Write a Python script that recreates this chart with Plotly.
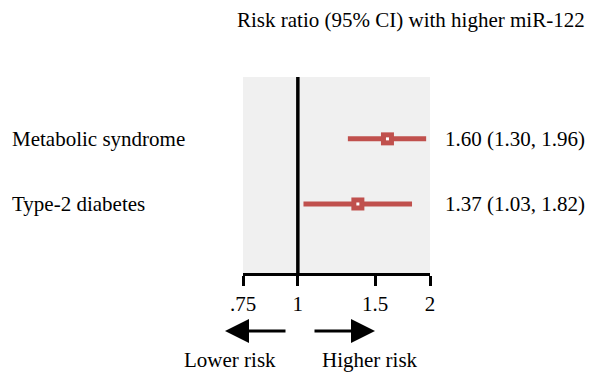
import plotly.graph_objects as go

outcomes = ["Metabolic syndrome", "Type-2 diabetes"]
estimates = [1.60, 1.37]
lower = [1.30, 1.03]
upper = [1.96, 1.82]
labels = ["1.60 (1.30, 1.96)", "1.37 (1.03, 1.82)"]
ypos = [2, 1]
tick_vals = [0.75, 1, 1.5, 2]
tick_text = [".75", "1", "1.5", "2"]
null_value = 1

W, H = 599, 378
L, R, T, B = 243, 430, 77, 273
FONT = "Liberation Serif, Times New Roman, serif"
RED = "#c0504d"
FS = 21

def px(x):
    return (x - L) / (R - L)

def py(y):
    return (B - y) / (B - T)

fig = go.Figure()
fig.add_trace(go.Scatter(
    x=[null_value, null_value], y=[-0.06, 2.95], mode="lines",
    line=dict(color="black", width=3.5),
    showlegend=False, hoverinfo="skip"))
fig.add_trace(go.Scatter(
    x=estimates, y=ypos, mode="markers",
    marker=dict(symbol="square", size=13, color=RED),
    error_x=dict(type="data", symmetric=False,
                 array=[u - e for u, e in zip(upper, estimates)],
                 arrayminus=[e - l for e, l in zip(estimates, lower)],
                 thickness=5, width=0, color=RED),
    showlegend=False, hoverinfo="skip"))
fig.add_trace(go.Scatter(
    x=estimates, y=ypos, mode="markers",
    marker=dict(symbol="square", size=3, color="white"),
    showlegend=False, hoverinfo="skip"))

ann = []
for name, lab, y in zip(outcomes, labels, ypos):
    ann.append(dict(text=name, xref="paper", yref="y", x=px(10), y=y,
                    xanchor="left", yanchor="middle", showarrow=False,
                    font=dict(size=FS, family=FONT, color="black")))
    ann.append(dict(text=lab, xref="paper", yref="y", x=px(443), y=y,
                    xanchor="left", yanchor="middle", showarrow=False,
                    font=dict(size=FS, family=FONT, color="black")))
ann.append(dict(text="Risk ratio (95% CI) with higher miR-122", xref="paper", yref="paper",
                x=px(411), y=py(20), xanchor="center", yanchor="middle", showarrow=False,
                font=dict(size=FS, family=FONT, color="black")))
ann.append(dict(text="Lower risk", xref="paper", yref="paper",
                x=px(230), y=py(360), xanchor="center", yanchor="middle", showarrow=False,
                font=dict(size=FS, family=FONT, color="black")))
ann.append(dict(text="Higher risk", xref="paper", yref="paper",
                x=px(370), y=py(360), xanchor="center", yanchor="middle", showarrow=False,
                font=dict(size=FS, family=FONT, color="black")))
# arrows
ann.append(dict(text="", xref="paper", yref="paper", x=px(225), y=py(331),
                ax=62, ay=0, showarrow=True, arrowhead=2, arrowsize=1.6,
                arrowwidth=3, arrowcolor="black", standoff=0, startstandoff=0))
ann.append(dict(text="", xref="paper", yref="paper", x=px(375), y=py(331),
                ax=-62, ay=0, showarrow=True, arrowhead=2, arrowsize=1.6,
                arrowwidth=3, arrowcolor="black", standoff=0, startstandoff=0))

fig.update_layout(
    width=W, height=H,
    margin=dict(l=L, r=W - R, t=T, b=H - B, pad=0),
    paper_bgcolor="white", plot_bgcolor="#f0f0f0",
    font=dict(family=FONT, size=FS, color="black"),
    annotations=ann,
    xaxis=dict(type="log", range=[-0.12494, 0.30103],
               tickvals=tick_vals, ticktext=tick_text,
               ticks="outside", ticklen=10, tickwidth=3, tickcolor="black",
               showline=True, linewidth=3, linecolor="black",
               showgrid=False, zeroline=False, ticklabelstandoff=0,
               tickfont=dict(size=FS, family=FONT, color="black")),
    yaxis=dict(range=[-0.06, 2.95], showticklabels=False, showgrid=False,
               zeroline=False, showline=False, ticks=""),
)
fig.write_html("out.html")
